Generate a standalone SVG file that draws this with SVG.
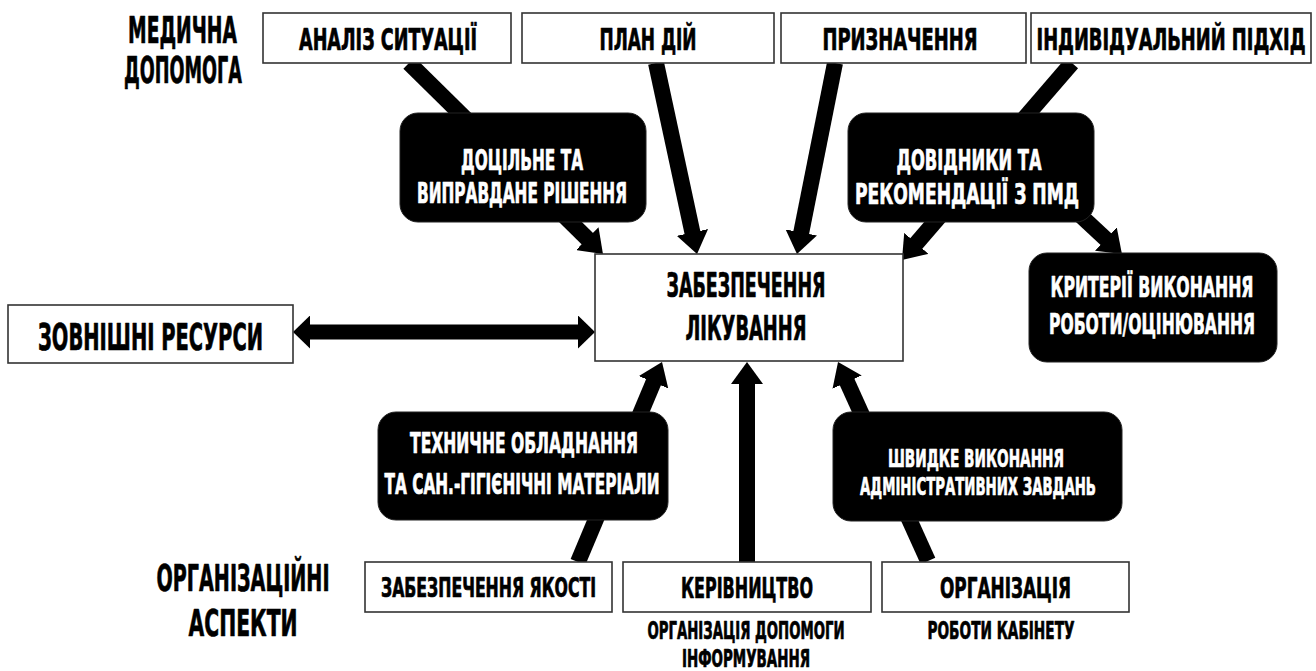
<svg xmlns="http://www.w3.org/2000/svg" width="1316" height="671" viewBox="0 0 1316 671">
<style>
text{font-family:"DejaVu Sans Condensed","DejaVu Sans","Liberation Sans",sans-serif;font-weight:bold;text-anchor:middle;stroke-width:0.7;stroke-linejoin:round}
.box{fill:#fff;stroke:#333;stroke-width:1.6}
.blk{fill:#000;stroke:#222;stroke-width:1}
.w{fill:#fff;stroke:#fff}
.k{fill:#000;stroke:#000}
.ln{stroke:#000;stroke-width:16;fill:none}
.dl{stroke:#000;stroke-width:15;fill:none}
</style>
<defs>
<marker id="ah" viewBox="0 0 22 32" refX="8" refY="16" markerWidth="22" markerHeight="32" markerUnits="userSpaceOnUse" orient="auto">
<path d="M0,0 L22,16 L0,32 z" fill="#000"/>
</marker>
<marker id="ah2" viewBox="0 0 17 33" refX="5" refY="16.5" markerWidth="17" markerHeight="33" markerUnits="userSpaceOnUse" orient="auto-start-reverse">
<path d="M0,0 L17,16.5 L0,33 z" fill="#000"/>
</marker>
</defs>

<g id="connectors">
<line class="ln" x1="409" y1="63" x2="593" y2="244.2" marker-end="url(#ah)"/>
<line class="ln" x1="656" y1="63" x2="694.1" y2="240.3" marker-end="url(#ah)"/>
<line class="ln" x1="835" y1="63" x2="799.7" y2="240.3" marker-end="url(#ah)"/>
<line class="ln" x1="1072" y1="63" x2="911.1" y2="249.4" marker-end="url(#ah)"/>
<line class="ln" x1="1080" y1="215" x2="1111.7" y2="244.5" marker-end="url(#ah)"/>
<line class="dl" x1="305" y1="332" x2="583" y2="332" marker-start="url(#ah2)" marker-end="url(#ah2)"/>
<line class="ln" x1="578" y1="562" x2="656.6" y2="374.9" marker-end="url(#ah)"/>
<line class="ln" x1="747" y1="562" x2="747" y2="376" marker-end="url(#ah)"/>
<line class="ln" x1="928" y1="561" x2="843.8" y2="374.8" marker-end="url(#ah)"/>
</g>

<g id="label-med">
<text class="k" transform="translate(182.5,43) scale(0.62,1)" font-size="38" textLength="175.8" lengthAdjust="spacingAndGlyphs">МЕДИЧНА</text>
<text class="k" transform="translate(183,83) scale(0.62,1)" font-size="38" textLength="190.3" lengthAdjust="spacingAndGlyphs">ДОПОМОГА</text>
</g>
<g id="label-org">
<text class="k" transform="translate(243,591) scale(0.62,1)" font-size="38" textLength="279" lengthAdjust="spacingAndGlyphs">ОРГАНІЗАЦІЙНІ</text>
<text class="k" transform="translate(243,636) scale(0.62,1)" font-size="38" textLength="175.8" lengthAdjust="spacingAndGlyphs">АСПЕКТИ</text>
</g>

<g id="n-analiz">
<rect class="box" x="263" y="13" width="248" height="50"/>
<text class="k" transform="translate(388,50) scale(0.62,1)" font-size="30" textLength="287.1" lengthAdjust="spacingAndGlyphs">АНАЛІЗ СИТУАЦІЇ</text>
</g>
<g id="n-plan">
<rect class="box" x="522" y="13" width="252" height="50"/>
<text class="k" transform="translate(648,50) scale(0.62,1)" font-size="30" textLength="156.5" lengthAdjust="spacingAndGlyphs">ПЛАН ДІЙ</text>
</g>
<g id="n-pryzn">
<rect class="box" x="781" y="13" width="245" height="50"/>
<text class="k" transform="translate(900,50) scale(0.62,1)" font-size="30" textLength="250" lengthAdjust="spacingAndGlyphs">ПРИЗНАЧЕННЯ</text>
</g>
<g id="n-indyv">
<rect class="box" x="1031" y="13" width="280" height="50"/>
<text class="k" transform="translate(1171,50) scale(0.62,1)" font-size="30" textLength="433.9" lengthAdjust="spacingAndGlyphs">ІНДИВІДУАЛЬНИЙ ПІДХІД</text>
</g>

<g id="n-dotsilne">
<rect class="blk" x="400" y="113" width="246" height="109" rx="18"/>
<text class="w" transform="translate(522,170) scale(0.62,1)" font-size="28" textLength="196.8" lengthAdjust="spacingAndGlyphs">ДОЦІЛЬНЕ ТА</text>
<text class="w" transform="translate(522,203) scale(0.62,1)" font-size="28" textLength="338.7" lengthAdjust="spacingAndGlyphs">ВИПРАВДАНЕ РІШЕННЯ</text>
</g>
<g id="n-dovidnyky">
<rect class="blk" x="848" y="113" width="246" height="109" rx="18"/>
<text class="w" transform="translate(969,170) scale(0.62,1)" font-size="28" textLength="233.9" lengthAdjust="spacingAndGlyphs">ДОВІДНИКИ ТА</text>
<text class="w" transform="translate(967,204) scale(0.62,1)" font-size="28" textLength="361.3" lengthAdjust="spacingAndGlyphs">РЕКОМЕНДАЦІЇ З ПМД</text>
</g>

<g id="n-center">
<rect class="box" x="595" y="254" width="308" height="107"/>
<text class="k" transform="translate(746,297) scale(0.62,1)" font-size="33" textLength="256.5" lengthAdjust="spacingAndGlyphs">ЗАБЕЗПЕЧЕННЯ</text>
<text class="k" transform="translate(746,340) scale(0.62,1)" font-size="33" textLength="195.2" lengthAdjust="spacingAndGlyphs">ЛІКУВАННЯ</text>
</g>

<g id="n-zovn">
<rect class="box" x="8" y="305" width="285" height="58"/>
<text class="k" transform="translate(150.5,350) scale(0.62,1)" font-size="38" textLength="362.9" lengthAdjust="spacingAndGlyphs">ЗОВНІШНІ РЕСУРСИ</text>
</g>

<g id="n-kryterii">
<rect class="blk" x="1029" y="253" width="248" height="109" rx="18"/>
<text class="w" transform="translate(1152,297) scale(0.62,1)" font-size="28" textLength="327.4" lengthAdjust="spacingAndGlyphs">КРИТЕРІЇ ВИКОНАННЯ</text>
<text class="w" transform="translate(1152,334) scale(0.62,1)" font-size="28" textLength="332.3" lengthAdjust="spacingAndGlyphs">РОБОТИ/ОЦІНЮВАННЯ</text>
</g>

<g id="n-tekhn">
<rect class="blk" x="378" y="412" width="290" height="108" rx="18"/>
<text class="w" transform="translate(524,453) scale(0.62,1)" font-size="28" textLength="367.7" lengthAdjust="spacingAndGlyphs">ТЕХНИЧНЕ ОБЛАДНАННЯ</text>
<text class="w" transform="translate(522,494) scale(0.62,1)" font-size="28" textLength="443.5" lengthAdjust="spacingAndGlyphs">ТА САН.-ГІГІЄНІЧНІ МАТЕРІАЛИ</text>
</g>

<g id="n-shvydke">
<rect class="blk" x="833" y="412" width="289" height="109" rx="18"/>
<text class="w" transform="translate(976,467) scale(0.62,1)" font-size="25" textLength="283.9" lengthAdjust="spacingAndGlyphs">ШВИДКЕ ВИКОНАННЯ</text>
<text class="w" transform="translate(978,495) scale(0.62,1)" font-size="25" textLength="380.6" lengthAdjust="spacingAndGlyphs">АДМІНІСТРАТИВНИХ ЗАВДАНЬ</text>
</g>

<g id="n-yakist">
<rect class="box" x="365" y="562" width="247" height="50"/>
<text class="k" transform="translate(488.5,597) scale(0.62,1)" font-size="26" textLength="346.8" lengthAdjust="spacingAndGlyphs">ЗАБЕЗПЕЧЕННЯ ЯКОСТІ</text>
</g>
<g id="n-kerivn">
<rect class="box" x="623" y="562" width="248" height="50"/>
<text class="k" transform="translate(747,598) scale(0.62,1)" font-size="29" textLength="212.9" lengthAdjust="spacingAndGlyphs">КЕРІВНИЦТВО</text>
<text class="k" transform="translate(746,639) scale(0.62,1)" font-size="24" textLength="317.7" lengthAdjust="spacingAndGlyphs">ОРГАНІЗАЦІЯ ДОПОМОГИ</text>
<text class="k" transform="translate(746,667) scale(0.62,1)" font-size="24" textLength="206.5" lengthAdjust="spacingAndGlyphs">ІНФОРМУВАННЯ</text>
</g>
<g id="n-organiz">
<rect class="box" x="882" y="562" width="247" height="50"/>
<text class="k" transform="translate(1005.5,598) scale(0.62,1)" font-size="29" textLength="211.3" lengthAdjust="spacingAndGlyphs">ОРГАНІЗАЦІЯ</text>
<text class="k" transform="translate(1001,639) scale(0.62,1)" font-size="24" textLength="237.1" lengthAdjust="spacingAndGlyphs">РОБОТИ КАБІНЕТУ</text>
</g>
</svg>
